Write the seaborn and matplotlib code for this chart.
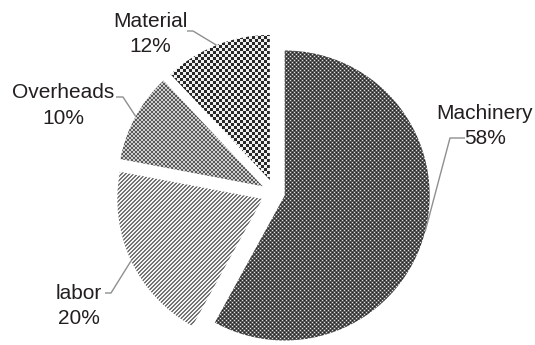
import numpy as np
import matplotlib
matplotlib.use("Agg")
import matplotlib.pyplot as plt
import seaborn as sns

# Cost breakdown, clockwise from twelve o'clock
categories = ["Machinery", "labor", "Overheads", "Material"]
shares = [58, 20, 10, 12]
explode = [10, 14, 14, 14]

sns.set_theme(style="white")
plt.rcParams["font.family"] = ["Liberation Sans", "DejaVu Sans"]

W, H = 535, 345
fig = plt.figure(figsize=(W / 100, H / 100), dpi=100)
ax = fig.add_axes([0, 0, 1, 1])

center = (275, 152)
radius = 145

wedges, _ = ax.pie(shares, explode=explode, startangle=90, counterclock=False,
                   center=center, radius=radius, frame=True,
                   wedgeprops=dict(facecolor="none", linewidth=0))


def tile_fill(tile):
    tile = np.asarray(tile, dtype=float)
    reps = (H // tile.shape[0] + 2, W // tile.shape[1] + 2)
    return np.tile(tile, reps)[:H, :W]


# pixel fill patterns for each slice
D, G, L = 35, 85, 225
machinery_tile = [[D, G, L, G],
                  [G, G, G, G],
                  [L, G, D, G],
                  [G, G, G, G]]
a, b = 40, 240
material_tile = [[a, a, a, b, b, b]] * 3 + [[b, b, b, a, a, a]] * 3
m, w = 90, 205
overheads_tile = [[m if (i == j or i + j == 3) else w for j in range(4)] for i in range(4)]
p, q = 115, 245
labor_tile = [[p if (i + j) % 4 in (2, 3) else q for j in range(4)] for i in range(4)]

tiles = {"Machinery": machinery_tile, "labor": labor_tile,
         "Overheads": overheads_tile, "Material": material_tile}
for wedge, name in zip(wedges, categories):
    im = ax.imshow(tile_fill(tiles[name]), cmap="gray", vmin=0, vmax=255,
                   extent=(0, W, 0, H), origin="upper", interpolation="nearest",
                   zorder=1)
    im.set_clip_path(wedge)

ax.set_xlim(0, W)
ax.set_ylim(0, H)
ax.set_aspect("equal")
ax.axis("off")

# label positions (center of text block) and leader elbows, in pixel units
label_pos = {"Machinery": (485, H - 126), "Material": (150, H - 34),
             "Overheads": (63, H - 105.5), "labor": (79, H - 306)}
leader = {"Machinery": [(465, H - 138), (450, H - 138)],
          "Material": [(187, H - 31), (193, H - 31)],
          "Overheads": [(116, H - 97), (123, H - 97)],
          "labor": [(105, H - 293), (111, H - 293)]}

for wedge, name, v in zip(wedges, categories, shares):
    x0, y0 = wedge.center
    th = np.deg2rad((wedge.theta1 + wedge.theta2) / 2)
    end = (x0 + wedge.r * np.cos(th), y0 + wedge.r * np.sin(th))
    pts = leader[name] + [end]
    ax.plot([pt[0] for pt in pts], [pt[1] for pt in pts], color="#8f8f8f",
            lw=1.0, zorder=3, solid_capstyle="butt")
    tx, ty = label_pos[name]
    ax.text(tx, ty, f"{name}\n{v}%", ha="center", va="center", fontsize=15,
            color="#231f20", linespacing=1.4, zorder=4)

fig.savefig("out.png", dpi=100, facecolor="white")
